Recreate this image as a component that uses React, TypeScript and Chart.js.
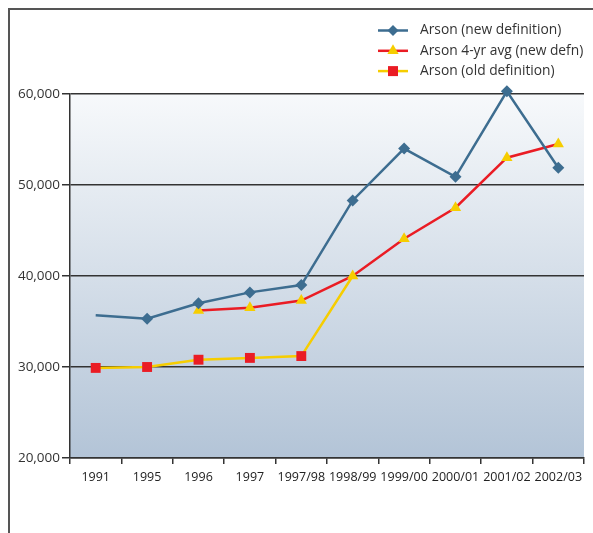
import React, { useEffect, useRef } from "react";
import { Chart, registerables } from "chart.js";

Chart.register(...registerables);

const categories = ["1991", "1995", "1996", "1997", "1997/98", "1998/99", "1999/00", "2000/01", "2001/02", "2002/03"];
const arsonNew = [35700, 35300, 37000, 38200, 39000, 48300, 54000, 50900, 60300, 51900];
const arsonAvg = [null, null, 36200, 36500, 37300, 40000, 44100, 47500, 53000, 54500];
const arsonOld = [29900, 30000, 30800, 31000, 31200, 40000, null, null, null, null];
const yTicks = [20000, 30000, 40000, 50000, 60000];

const BLUE = "#3d6d90";
const RED = "#ea1c24";
const YELLOW = "#f6cd00";
const FONT = "'Open Sans', sans-serif";

const bgPlugin = {
  id: "bgGrad",
  beforeDraw(chart: any) {
    const { ctx, chartArea } = chart;
    const g = ctx.createLinearGradient(0, chartArea.top, 0, chartArea.bottom);
    g.addColorStop(0, "#f7f9fb");
    g.addColorStop(1, "#b3c4d7");
    ctx.save();
    ctx.fillStyle = g;
    ctx.fillRect(chartArea.left, chartArea.top, chartArea.right - chartArea.left, chartArea.bottom - chartArea.top);
    ctx.restore();
  },
};

const legendPlugin = {
  id: "customLegend",
  afterDraw(chart: any) {
    const ctx = chart.ctx;
    const items = chart.data.datasets;
    ctx.save();
    items.forEach((ds: any, i: number) => {
      const y = 20.5 + i * 20.3;
      const x0 = 368;
      const x1 = 398;
      ctx.strokeStyle = ds.borderColor;
      ctx.lineWidth = 2.5;
      ctx.beginPath();
      ctx.moveTo(x0, y);
      ctx.lineTo(x1, y);
      ctx.stroke();
      ctx.fillStyle = ds.pointBackgroundColor;
      const cx = (x0 + x1) / 2;
      ctx.beginPath();
      if (ds.pointStyle === "rectRot") {
        const r = 5.5;
        ctx.moveTo(cx, y - r);
        ctx.lineTo(cx + r, y);
        ctx.lineTo(cx, y + r);
        ctx.lineTo(cx - r, y);
        ctx.closePath();
      } else if (ds.pointStyle === "triangle") {
        const r = 6.5;
        ctx.moveTo(cx, y - r);
        ctx.lineTo(cx + r * 0.866, y + r * 0.5);
        ctx.lineTo(cx - r * 0.866, y + r * 0.5);
        ctx.closePath();
      } else {
        ctx.rect(cx - 5, y - 5, 10, 10);
      }
      ctx.fill();
      ctx.fillStyle = "#333";
      ctx.font = `13.8px ${FONT}`;
      ctx.textBaseline = "middle";
      ctx.textAlign = "left";
      ctx.fillText(ds.label, 410, y);
    });
    ctx.restore();
  },
};

export default function App() {
  const ref = useRef<HTMLCanvasElement>(null);
  useEffect(() => {
    document.documentElement.style.overflow = "hidden";
    document.body.style.overflow = "hidden";
    const chart = new Chart(ref.current!, {
      type: "line",
      data: {
        labels: categories,
        datasets: [
          {
            label: "Arson (new definition)",
            data: arsonNew,
            borderColor: BLUE,
            backgroundColor: BLUE,
            pointBackgroundColor: BLUE,
            pointBorderWidth: 0,
            pointStyle: "rectRot",
            pointRadius: arsonNew.map((_, i) => (i === 0 ? 0 : 6)),
            borderWidth: 2.5,
            tension: 0,
            clip: false,
          },
          {
            label: "Arson 4-yr avg (new defn)",
            data: arsonAvg,
            borderColor: RED,
            backgroundColor: YELLOW,
            pointBackgroundColor: YELLOW,
            pointBorderWidth: 0,
            pointStyle: "triangle",
            pointRadius: 6.5,
            borderWidth: 2.5,
            tension: 0,
            clip: false,
          },
          {
            label: "Arson (old definition)",
            data: arsonOld,
            borderColor: YELLOW,
            backgroundColor: RED,
            pointBackgroundColor: RED,
            pointBorderWidth: 0,
            pointStyle: "rect",
            pointRadius: arsonOld.map((_, i) => (i === 5 ? 0 : 7)),
            borderWidth: 2.5,
            tension: 0,
            clip: false,
          },
        ] as any,
      },
      options: {
        animation: false,
        responsive: false,
        maintainAspectRatio: false,
        layout: { padding: { top: 84, right: 9, left: 0, bottom: 0 } },
        plugins: { legend: { display: false }, tooltip: { enabled: false } },
        scales: {
          x: {
            offset: true,
            grid: { drawOnChartArea: false, offset: true, tickLength: 6, color: "#333", lineWidth: 1.5 },
            border: { color: "#333", width: 1.5 },
            ticks: { color: "#222", font: { family: FONT, size: 12.5 }, padding: 6, maxRotation: 0, autoSkip: false },
            afterFit(scale: any) { scale.height = 75; },
          },
          y: {
            min: 20000,
            max: 60000,
            afterBuildTicks(scale: any) { scale.ticks = yTicks.map((v) => ({ value: v })); },
            grid: { color: "#333", lineWidth: 1.5, tickLength: 8 },
            border: { color: "#333", width: 1.5 },
            ticks: {
              color: "#333",
              font: { family: FONT, size: 13.5 },
              padding: 2,
              callback: (v: any) => Number(v).toLocaleString("en-GB"),
            },
            afterFit(scale: any) { scale.width = 60; },
          },
        },
      },
      plugins: [bgPlugin, legendPlugin],
    });
    return () => chart.destroy();
  }, []);
  return (
    <div
      style={{
        position: "absolute",
        left: 8,
        top: 8,
        width: 585,
        height: 525,
        borderTop: "2px solid #555",
        borderLeft: "2px solid #555",
        boxSizing: "border-box",
        background: "#fff",
      }}
    >
      <canvas ref={ref} width={583} height={523} style={{ display: "block", width: 583, height: 523 }} />
    </div>
  );
}
